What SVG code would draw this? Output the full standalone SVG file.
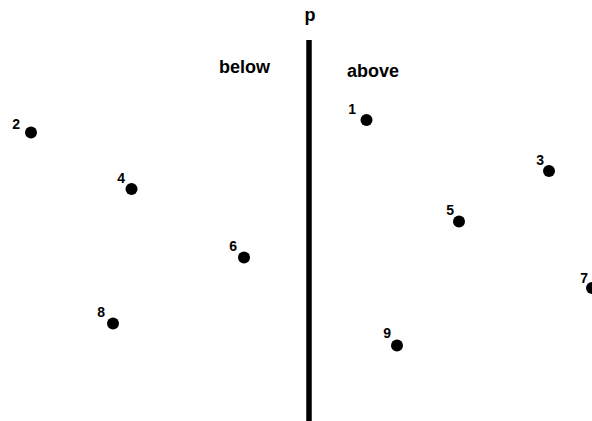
<svg xmlns="http://www.w3.org/2000/svg" width="592" height="421" viewBox="0 0 592 421">
<style>
.t{font-family:"Liberation Sans",Arial,sans-serif;font-weight:bold;fill:#000}
.h{font-size:18px}
.n{font-size:14px;text-anchor:end}
.d{fill:#000}
</style>
<rect width="592" height="421" fill="#fff"/>
<g id="connectors">
<line x1="309" y1="40" x2="309" y2="421" stroke="#000" stroke-width="5.5"/>
</g>
<g id="title"><text class="t h" x="310" y="21" text-anchor="middle">p</text></g>
<g id="label-below"><text class="t h" x="219" y="73">below</text></g>
<g id="label-above"><text class="t h" x="347" y="77">above</text></g>
<g id="node1"><circle class="d" cx="366.5" cy="120" r="6"/><text class="t n" x="356" y="114">1</text></g>
<g id="node2"><circle class="d" cx="31" cy="132.5" r="6"/><text class="t n" x="20" y="129">2</text></g>
<g id="node3"><circle class="d" cx="549" cy="171" r="6"/><text class="t n" x="544" y="165">3</text></g>
<g id="node4"><circle class="d" cx="131.5" cy="189" r="6"/><text class="t n" x="125" y="183">4</text></g>
<g id="node5"><circle class="d" cx="459" cy="221.5" r="6"/><text class="t n" x="454" y="215">5</text></g>
<g id="node6"><circle class="d" cx="244" cy="257.5" r="6"/><text class="t n" x="237" y="251">6</text></g>
<g id="node7"><circle class="d" cx="592" cy="288" r="6"/><text class="t n" x="588" y="283">7</text></g>
<g id="node8"><circle class="d" cx="113" cy="323.5" r="6"/><text class="t n" x="105" y="317">8</text></g>
<g id="node9"><circle class="d" cx="397" cy="345.5" r="6"/><text class="t n" x="391" y="338">9</text></g>
</svg>
